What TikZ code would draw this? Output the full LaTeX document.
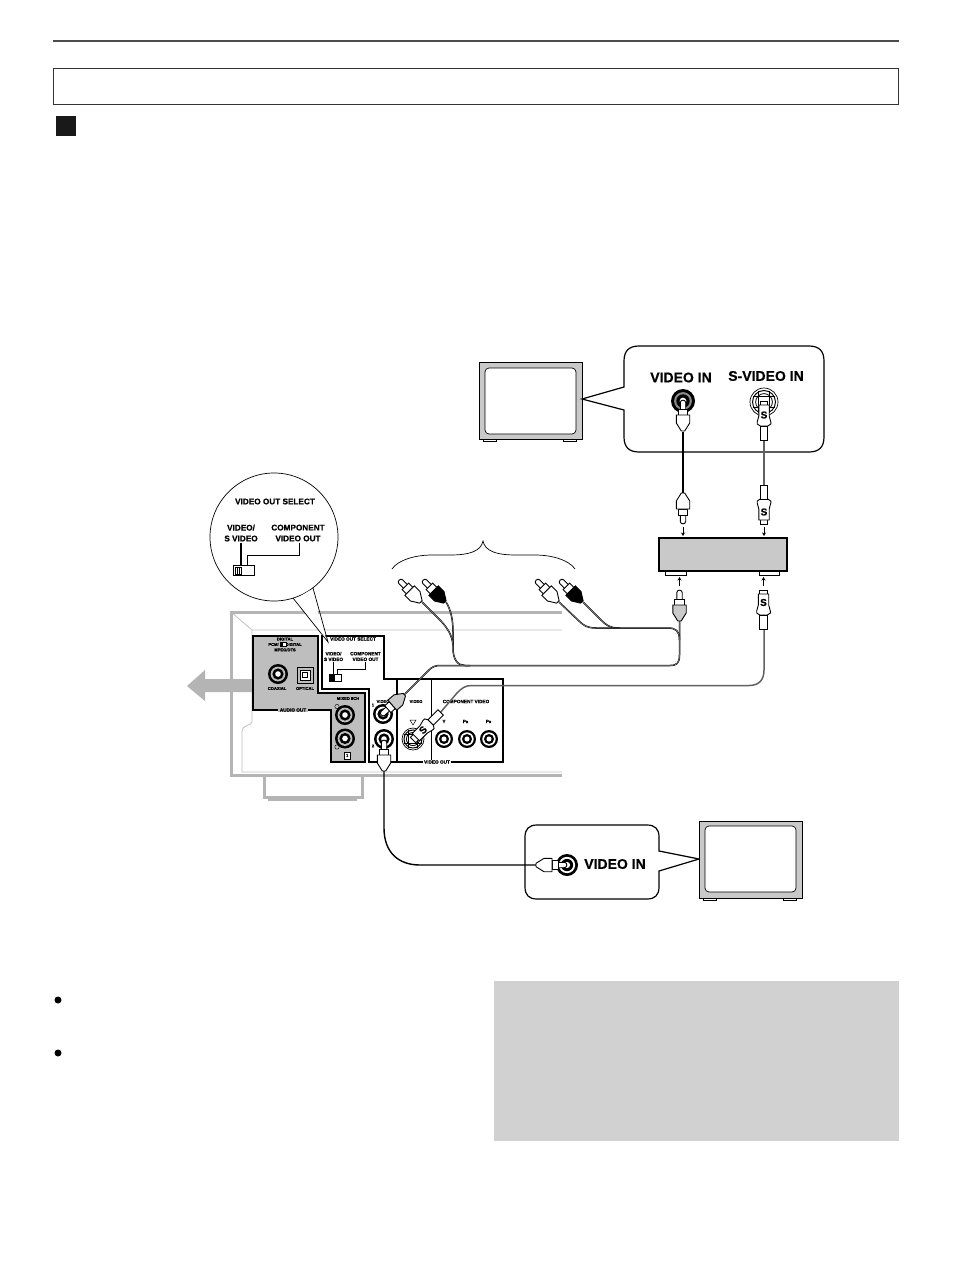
\documentclass[tikz,border=0pt]{standalone}
\usepackage{fontspec}
\setmainfont{Liberation Sans}[BoldFeatures={FakeBold=0.6}]
\definecolor{panelg}{HTML}{BEBEBE}
\definecolor{boxg}{HTML}{C9C9C9}
\definecolor{bodyg}{HTML}{B4B4B4}
\definecolor{noteg}{HTML}{D1D1D1}
\tikzset{
  outl/.style={draw=black,line width=0.9pt},
  lab/.style={inner sep=0pt,align=center,font=\bfseries\fontsize{14}{16}\selectfont},
  mid/.style={inner sep=0pt,align=center,font=\bfseries\fontsize{8.2}{10.8}\selectfont},
  tiny/.style={inner sep=0pt,align=center,font=\bfseries\fontsize{4.7}{5.6}\selectfont},
  tinier/.style={inner sep=0pt,align=center,font=\bfseries\fontsize{4.1}{5.4}\selectfont},
  gapw/.style={fill=white,inner xsep=1.5pt,inner ysep=0.5pt},
  gapg/.style={fill=panelg,inner xsep=1.5pt,inner ysep=0.5pt},
  cab/.style={line width=1.7pt,black},
  scab/.style={line width=1.5pt,black!62},
  thincab/.style={line width=0.5pt,black,double=black!45,double distance=0.5pt},
  mini/.style={-{Stealth[length=3.5pt,width=4pt]},line width=1pt},
  sletter/.style={inner sep=0pt,font=\bfseries\fontsize{10}{10}\selectfont},
  pics/rcaplug/.style={code={
    \draw[line width=0.9pt,fill=white] (-2.7,10) -- (-2.7,2.5) .. controls (-2.7,-0.6) and (2.7,-0.6) .. (2.7,2.5) -- (2.7,10) -- cycle;
    \draw[line width=0.9pt,fill=white] (-4.6,9) rectangle (4.6,15);
    \draw[line width=0.9pt,fill=#1] (-6.7,15) -- (6.7,15) -- (6.7,23) -- (1.7,31) -- (-1.7,31) -- (-6.7,23) -- cycle;
  }},
  pics/splug/.style={code={
    \draw[line width=0.9pt,fill=white] (-3.8,0) rectangle (3.8,6);
    \draw[line width=0.9pt,fill=white] (-5.2,4) -- (5.2,4) -- (5.2,15) -- (6.8,21) -- (6.8,23) -- (3.8,25) -- (-3.8,25) -- (-6.8,23) -- (-6.8,21) -- (-5.2,15) -- cycle;
    \draw[line width=0.9pt,fill=white] (-3.8,25) rectangle (3.8,39);
  }},
  pics/jackr/.style={code={
    \fill[black] (0,0) circle (1);
    \fill[#1] (0,0) circle (0.74);
    \fill[black] (0,0) circle (0.56);
    \fill[white] (0,0) circle (0.28);
  }},
  pics/sjack/.style={code={
    \draw[line width=0.7pt,fill=white] (0,0) circle (1);
    \draw[line width=1pt] (0,0) circle (0.82);
    \draw[line width=0.8pt] (0,0) circle (0.6);
    \draw[line width=0.6pt] (-0.8,-0.4) -- (0.8,-0.4) (-0.8,0.4) -- (0.8,0.4) (-0.4,-0.8) -- (-0.4,0.8) (0.4,-0.8) -- (0.4,0.8);
    \fill[white] (0,0) circle (0.28);
  }}
}
\usetikzlibrary{arrows.meta}
\begin{document}
\begin{tikzpicture}[x=1pt,y=-1pt]
\useasboundingbox[fill=white] (0,0) rectangle (954,1272);

% page furniture
\coordinate (ruleL) at (53,41); \coordinate (ruleR) at (899,41);
\draw[line width=1.1pt,black!70] (ruleL) -- (ruleR);
\draw[line width=0.8pt,black!80] (53,68) rectangle (898.5,104);
\fill[black!90] (56,116) rectangle (76,136);
\fill[black] (58,1000) circle (3.5);
\fill[black] (58,1053) circle (3.5);
\fill[noteg] (494,981) rectangle (899,1141);

% TV 1
\fill[black] (483,438) rectangle (497,442); \fill[black] (563,438) rectangle (577,442);
\fill[white] (484,438.5) rectangle (496,441); \fill[white] (564,438.5) rectangle (576,441);
\draw[outl,fill=boxg] (479,362) rectangle (582,439);
\draw[line width=0.7pt,fill=white,rounded corners=4pt] (485,368) rectangle (576,434);

% callout 1
\draw[line width=1.2pt,fill=white] (639,346) -- (809,346) .. controls (819,346) and (824,351) .. (824,361) -- (824,437) .. controls (824,447) and (819,452) .. (809,452) -- (639,452) .. controls (629,452) and (624,447) .. (624,437) -- (624,410) -- (582,399) -- (624,387) -- (624,361) .. controls (624,351) and (629,346) .. (639,346) -- cycle;
\node[lab] (vidin1) at (681,377.5) {VIDEO IN};
\node[lab] (svidin1) at (766,376) {S-VIDEO IN};
\pic[scale=12] at (683,401) {jackr=black!45};
\pic[scale=14] at (764,402) {sjack};

% AV box
\draw[line width=1pt,fill=white] (665,571) rectangle (686,575);
\draw[line width=1pt,fill=white] (759.5,571) rectangle (779.5,575);
\draw[line width=1.1pt,fill=boxg] (659,538) rectangle (787,571);
\draw[mini] (683,527) -- (683,536);
\draw[mini] (764,527) -- (764,536);
\draw[mini] (679.5,586) -- (679.5,577);
\draw[mini] (763.5,586) -- (763.5,577);

% brace
\coordinate (brL) at (392,569); \coordinate (brR) at (575,569);
\draw[line width=0.7pt] (brL) .. controls (398,560) and (415,555) .. (432,555) -- (450,555) .. controls (470,555) and (481,551) .. (483,541) .. controls (485,551) and (496,555) .. (516,555) -- (535,555) .. controls (552,555) and (569,560) .. (brR);

% device body
\draw[line width=0.8pt,black!25] (231,612) -- (252,630) -- (562,630);
\draw[line width=0.8pt,black!25] (252,630) -- (252,722) .. controls (252,726) and (242,724) .. (242,732) -- (242,772) -- (562,772);
\draw[line width=3pt,bodyg] (562,612) -- (231,612) -- (231,775) -- (562,775);
\draw[line width=3pt,bodyg] (264,776) -- (264,797) -- (362,797) -- (362,776);
\draw[line width=1.6pt,bodyg] (268,800) -- (357,800);

% big arrow
\fill[bodyg] (187,686) -- (205,670) -- (205,679) -- (253,679) -- (253,692) -- (205,692) -- (205,701) -- cycle;

% audio panel
\draw[line width=1.5pt,fill=panelg] (253,636) -- (318,636) -- (318,693) -- (365,693) -- (365,762) -- (331,762) -- (331,710) -- (253,710) -- cycle;
\node[tinier] (dig) at (285,644.5) {DIGITAL\\PCM/\hspace{7pt}DIGITAL\\MPEG/DTS};
\draw[line width=0.6pt,fill=white] (280.5,642.5) rectangle (286,646);
\fill[black] (280.5,642.5) rectangle (283,646);
\pic[scale=10] at (278,674) {jackr=panelg};
\draw[line width=0.9pt,fill=panelg] (297,667) rectangle (313,683);
\draw[line width=0.8pt,fill=white] (300,670) rectangle (310,680);
\draw[line width=0.8pt] (302.5,672) rectangle (307.5,677.5);
\node[tinier] (coax) at (277,688.5) {COAXIAL};
\node[tinier] (opt) at (305,688.5) {OPTICAL};
\node[tinier] (mix) at (348,698.5) {MIXED 8CH};
\pic[scale=10] at (345,715) {jackr=panelg};
\pic[scale=10] at (345,738.5) {jackr=panelg};
\draw[line width=0.4pt] (337,706.5) circle (2.2);
\draw[line width=0.4pt] (337,747) circle (2.2);
\draw[line width=0.8pt,fill=white] (344,752) rectangle (350.5,759);
\node[tinier] (one) at (347.2,755.5) {1};
\node[tiny,gapg] (audio) at (293,710) {AUDIO OUT};

% white panel
\draw[line width=1.5pt,fill=white] (322,636) -- (384,636) -- (384,679) -- (503,679) -- (503,762) -- (369,762) -- (369,689) -- (322,689) -- cycle;
\draw[line width=1.5pt] (397,679) -- (397,762);
\draw[line width=0.6pt] (431,679) -- (431,762);
\node[tiny] (vos2) at (353,639) {VIDEO OUT SELECT};
\node[tiny] (vs2) at (333.5,656.5) {VIDEO/\\S VIDEO};
\node[tiny] (cv2) at (365.5,656.5) {COMPONENT\\VIDEO OUT};
\draw[line width=0.8pt,fill=white] (329.5,674.5) rectangle (341,681);
\fill[black] (329.5,674.5) rectangle (334.5,681);
\draw[line width=0.8pt] (333,662) -- (333,674.5);
\draw[line width=0.7pt] (365,662) -- (365,669) -- (337,669) -- (337,674.5);
\node[tinier] (v1) at (383,701.5) {VIDEO};
\node[tinier] (n1) at (373,705) {1};
\node[tinier] (n2) at (373,746) {2};
\node[tinier] (v2) at (416,701.5) {VIDEO};
\node[tiny] (cv3) at (466,701.5) {COMPONENT VIDEO};
\node[tiny] (yy) at (444,721.5) {Y};
\node[tiny] (pb) at (465.5,721.5) {P\fontsize{3.2}{3}\selectfont B};
\node[tiny] (pr) at (488.5,721.5) {P\fontsize{3.2}{3}\selectfont R};
\draw[line width=0.5pt] (410,720) -- (416,720) -- (413,725) -- cycle;
\pic[scale=10] at (383,714) {jackr=white};
\pic[scale=10] at (384,739) {jackr=white};
\pic[scale=11] at (413,739) {sjack};
\pic[scale=9] at (444,739) {jackr=white};
\pic[scale=9] at (467,739) {jackr=white};
\pic[scale=9] at (489,739) {jackr=white};
\node[tiny,gapw] (vout) at (437,762) {VIDEO OUT};

% balloon
\draw[line width=0.7pt,fill=white] (274,537) circle (64);
\fill[white] (310.5,590) -- (295,599.5) -- (327,641) -- cycle;
\draw[line width=0.7pt] (313,588) -- (328,642) -- (293,598);
\node[mid] (vos1) at (275,501.5) {VIDEO OUT SELECT};
\node[mid] (vs1) at (241,533) {VIDEO/\\S VIDEO};
\node[mid] (cv1) at (298,533) {COMPONENT\\VIDEO OUT};
\draw[line width=0.8pt,fill=white] (233,565) rectangle (254,575.5);
\draw[line width=0.8pt] (235.5,567) rectangle (241,574);
\draw[line width=0.8pt] (237.5,567) -- (237.5,574) (239.2,567) -- (239.2,574);
\draw[line width=1.4pt] (241,543) -- (241,565);
\draw[line width=0.7pt] (299,543) -- (299,555) -- (247,555) -- (247,565);

% callout 2
\draw[line width=1.2pt,fill=white] (537,825) -- (647,825) .. controls (655,825) and (659,829) .. (659,837) -- (659,851) -- (699,859) -- (659,871) -- (659,887) .. controls (659,895) and (655,899) .. (647,899) -- (537,899) .. controls (529,899) and (525,895) .. (525,887) -- (525,837) .. controls (525,829) and (529,825) .. (537,825) -- cycle;
\node[lab] (vidin2) at (615,864) {VIDEO IN};
\pic[scale=11] at (567,865) {jackr=white};

% TV 2
\fill[black] (703,897) rectangle (717,900.5); \fill[black] (783,897) rectangle (797,900.5);
\fill[white] (704,898) rectangle (716,899.7); \fill[white] (784,898) rectangle (796,899.7);
\draw[outl,fill=boxg] (699,821) rectangle (802,898);
\draw[line width=0.7pt,fill=white,rounded corners=4pt] (705,826) rectangle (796,892);

% cable ends
\coordinate (vidU) at (683,432); \coordinate (vidL) at (683,493);
\coordinate (sU) at (764,441); \coordinate (sL) at (764,485);
\coordinate (greyT) at (679.5,621);
\coordinate (blk1) at (446,602); \coordinate (wht1) at (422,602);
\coordinate (blk2) at (583,602); \coordinate (wht2) at (559,602);
\coordinate (devG) at (405,694);
\coordinate (devS) at (440,713);
\coordinate (sbox) at (764,627);
\coordinate (dev2) at (384,770); \coordinate (tv2) at (536,865);

% cables
\draw[cab] (vidU) -- (vidL);
\draw[scab] (sU) -- (sL);
\draw[scab] (sbox) -- (764,670) .. controls (764,680) and (759,685.5) .. (749,685.5) -- (472,685.5) .. controls (465,685.5) and (462,688) .. (457,693) -- (devS);
\draw[cab,line width=1.4pt] (dev2) -- (384,828) .. controls (384,852) and (398,865) .. (420,865) -- (tv2);
\draw[thincab] (greyT) -- (679.5,655) .. controls (679.5,663) and (677,665.5) .. (670,665.5) -- (465,665.5) .. controls (458,665.5) and (453,660) .. (453,648) -- (453,632) .. controls (453,620) and (451,610) .. (blk1);
\draw[thincab] (wht1) -- (441,621) .. controls (448,629) and (452,635) .. (453,645);
\draw[thincab] (blk2) -- (601,620) .. controls (606,625) and (610,628) .. (618,628) -- (668,628) .. controls (676,628) and (679.5,631) .. (679.5,640);
\draw[thincab] (wht2) -- (579,621) .. controls (584,626) and (588,628) .. (596,628) -- (620,628);
\draw[thincab] (devG) -- (429,670) .. controls (432,667) and (435,665.5) .. (440,665.5) -- (470,665.5);

% plugs
\pic at (683,400) {rcaplug=white};
\pic[rotate=180] at (683,524) {rcaplug=white};
\pic at (764,401) {splug};
\pic[rotate=180] at (764,524) {splug};
\node[sletter] (s1) at (764,415) {S};
\node[sletter] (s2) at (764,512) {S};
\pic at (679.5,590) {rcaplug=boxg};
\pic at (763.5,590) {splug};
\node[sletter] (s3) at (763.5,602.5) {S};
\pic[rotate=45] at (399,580) {rcaplug=white};
\pic[rotate=45] at (423,580) {rcaplug=black};
\pic[rotate=45] at (536,580) {rcaplug=white};
\pic[rotate=45] at (560,580) {rcaplug=black};
\pic[rotate=131] at (381,715) {rcaplug=boxg};
\pic at (384,740) {rcaplug=white};
\pic[rotate=135] at (413,740) {splug};
\node[sletter,rotate=45] (s4) at (423,730) {S};
\pic[rotate=-90] at (567,865) {rcaplug=white};
\end{tikzpicture}
\end{document}
